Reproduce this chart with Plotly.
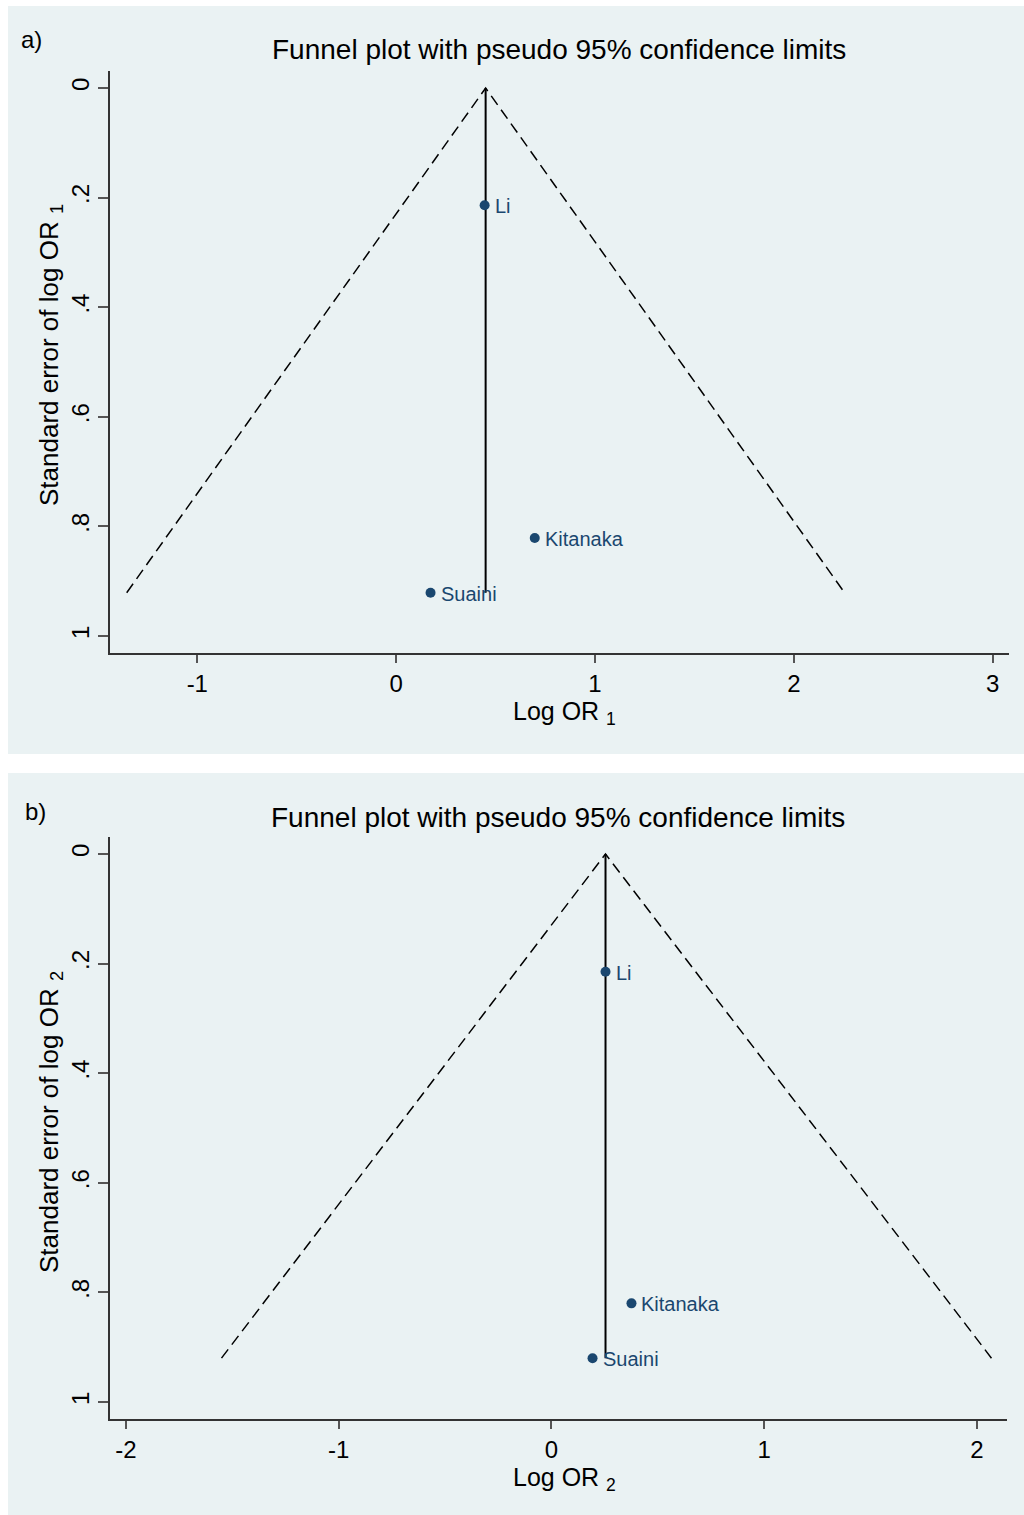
import plotly.graph_objects as go

# ---------------- data ----------------
studies = ["Li", "Kitanaka", "Suaini"]

# panel a (Log OR1)
logor_a = [0.445, 0.697, 0.173]
se_a = [0.214, 0.821, 0.921]
pooled_a = 0.45
funnel_a_x = [-1.355, 0.45, 2.255]
funnel_a_y = [0.921, 0.0, 0.921]

# panel b (Log OR2)
logor_b = [0.254, 0.376, 0.193]
se_b = [0.215, 0.820, 0.920]
pooled_b = 0.254
funnel_b_x = [-1.551, 0.254, 2.068]
funnel_b_y = [0.920, 0.0, 0.920]

ytick_vals = [0, 0.2, 0.4, 0.6, 0.8, 1.0]
ytick_text = ["0", ".2", ".4", ".6", ".8", "1"]
xticks_a = [-1, 0, 1, 2, 3]
xticks_a_text = ["-1", "0", "1", "2", "3"]
xticks_b = [-2, -1, 0, 1, 2]
xticks_b_text = ["-2", "-1", "0", "1", "2"]

title_text = "Funnel plot with pseudo 95% confidence limits"

# ---------------- styling ----------------
BG = "#eaf2f3"
NAVY = "#1a476f"
FONT = "Arial, Liberation Sans, sans-serif"
W, H = 1024, 1515

fig = go.Figure()

def add_panel(xs, ys, fx, fy, pooled, xa, ya):
    fig.add_trace(go.Scatter(x=fx, y=fy, mode="lines",
                             line=dict(color="black", width=1.5, dash="11px,6px"),
                             xaxis=xa, yaxis=ya, showlegend=False, hoverinfo="skip"))
    fig.add_trace(go.Scatter(x=[pooled, pooled], y=[0, max(ys)], mode="lines",
                             line=dict(color="black", width=2),
                             xaxis=xa, yaxis=ya, showlegend=False, hoverinfo="skip"))
    fig.add_trace(go.Scatter(x=xs, y=ys, mode="markers",
                             marker=dict(color=NAVY, size=10),
                             xaxis=xa, yaxis=ya, showlegend=False))
    for name, x, y in zip(studies, xs, ys):
        fig.add_annotation(text=name, x=x, y=y, xref=xa, yref=ya, showarrow=False,
                           xanchor="left", yanchor="middle", xshift=8, yshift=-1,
                           font=dict(color=NAVY, size=20, family=FONT))

add_panel(logor_a, se_a, funnel_a_x, funnel_a_y, pooled_a, "x", "y")
add_panel(logor_b, se_b, funnel_b_x, funnel_b_y, pooled_b, "x2", "y2")

def px_x(p):
    return p / W

def px_y(p):
    return 1 - p / H

axis_common = dict(showline=True, linecolor="#333333", linewidth=1.5,
                   ticks="outside", tickcolor="#555555", tickwidth=1.5,
                   zeroline=False, tickfont=dict(size=24, family=FONT, color="black"))

fig.update_layout(
    width=W, height=H,
    margin=dict(l=0, r=0, t=0, b=0),
    paper_bgcolor="white", plot_bgcolor="white",
    font=dict(family=FONT, color="black"),
    xaxis=dict(domain=[px_x(110), px_x(1009)], range=[-1.439, 3.082],
               tickvals=xticks_a, ticktext=xticks_a_text, ticklen=8, showgrid=False,
               anchor="y", **axis_common),
    yaxis=dict(domain=[px_y(653), px_y(71)], range=[1.031, -0.031],
               tickvals=ytick_vals, ticktext=ytick_text, tickangle=-90, ticklen=10,
               showgrid=True, gridcolor=BG, gridwidth=2, anchor="x", **axis_common),
    xaxis2=dict(domain=[px_x(110), px_x(1007)], range=[-2.075, 2.141],
                tickvals=xticks_b, ticktext=xticks_b_text, ticklen=8, showgrid=False,
                anchor="y2", **axis_common),
    yaxis2=dict(domain=[px_y(1419), px_y(837)], range=[1.031, -0.031],
                tickvals=ytick_vals, ticktext=ytick_text, tickangle=-90, ticklen=10,
                showgrid=True, gridcolor=BG, gridwidth=2, anchor="x2", **axis_common),
)

# panel backgrounds
fig.add_shape(type="rect", xref="paper", yref="paper", layer="below",
              x0=px_x(8), x1=1, y0=px_y(754), y1=px_y(6),
              fillcolor=BG, line=dict(width=0))
fig.add_shape(type="rect", xref="paper", yref="paper", layer="below",
              x0=px_x(8), x1=1, y0=0, y1=px_y(773),
              fillcolor=BG, line=dict(width=0))

def ann(text, x, y, size=24, angle=0, xanchor="center", yanchor="middle"):
    fig.add_annotation(text=text, x=px_x(x), y=px_y(y), xref="paper", yref="paper",
                       showarrow=False, textangle=angle, xanchor=xanchor, yanchor=yanchor,
                       font=dict(size=size, family=FONT, color="black"))

# panel a texts
ann("a)", 19, 40, xanchor="left")
ann(title_text, 559, 50, size=28)
ann("Log OR <sub>1</sub>", 564, 713, size=25)
ann("Standard error of log OR <sub>1</sub>", 50, 355, size=26, angle=-90)

# panel b texts
ann("b)", 23, 812, xanchor="left")
ann(title_text, 558, 817, size=28)
ann("Log OR <sub>2</sub>", 564, 1479, size=25)
ann("Standard error of log OR <sub>2</sub>", 50, 1122, size=26, angle=-90)

fig.write_html("out.html")
